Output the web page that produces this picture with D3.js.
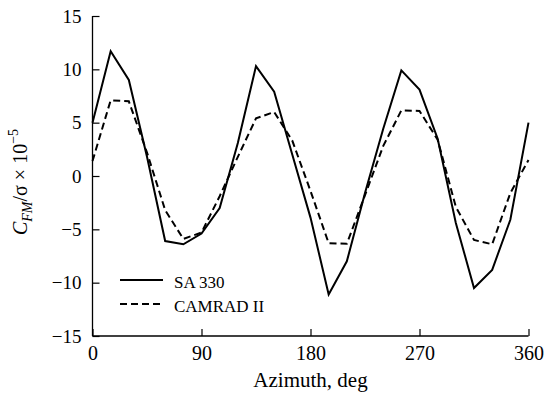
<!DOCTYPE html>
<html>
<head>
<meta charset="utf-8">
<script src="https://cdn.jsdelivr.net/npm/d3@7"></script>
<style>
  body { margin: 0; background: #fff; }
  svg text { font-family: "Liberation Serif", "Times New Roman", serif !important; fill: #000; }
</style>
</head>
<body>
<div class="chart"></div>
<script>
let azimuth = [0, 15, 30, 45, 60, 75, 90, 105, 120, 135, 150, 165, 180,
  195, 210, 225, 240, 255, 270, 285, 300, 315, 330, 345, 360];
let sa330 = [5.0, 11.7, 9.0, 1.8, -6.1, -6.4, -5.4, -3.0, 3.1, 10.3, 7.9, 2.0, -3.9,
  -11.1, -8.0, -1.6, 4.4, 9.9, 8.1, 3.5, -4.4, -10.5, -8.8, -4.1, 5.0];
let camrad = [1.4, 7.1, 7.0, 2.2, -3.2, -5.9, -5.3, -1.9, 1.8, 5.4, 6.0, 3.3, -1.4,
  -6.3, -6.35, -1.8, 2.8, 6.15, 6.1, 3.4, -2.9, -6.0, -6.4, -1.6, 1.5];
let xTicks = [0, 90, 180, 270, 360];
let yTicks = [-15, -10, -5, 0, 5, 10, 15];
let seriesNames = ["SA 330", "CAMRAD II"];

let svgWidth = 546;
let svgHeight = 395;

let svg = d3.select(".chart")
  .append("svg")
  .attr("width", svgWidth)
  .attr("height", svgHeight);

let x = d3.scaleLinear().domain([0, 360]).range([92.5, 528.5]);
let y = d3.scaleLinear().domain([-15, 15]).range([336, 16]);

// axes, ticks point inward
let bottomAxis = d3.axisBottom(x).tickValues(xTicks).tickSize(-7).tickPadding(10);
let leftAxis = d3.axisLeft(y).tickValues(yTicks).tickSize(-7).tickPadding(11)
  .tickFormat(d => d < 0 ? "\u2212" + Math.abs(d) : d);

let gx = svg.append("g")
  .attr("transform", `translate(0, ${y(-15)})`)
  .call(bottomAxis);
let gy = svg.append("g")
  .attr("transform", `translate(${x(0)}, 0)`)
  .call(leftAxis);

[gx, gy].forEach(g => {
  g.attr("font-family", null);
  g.select(".domain").attr("stroke", "#000").attr("stroke-width", 1.3)
    .attr("d", g === gx ? `M${x(0)},0H${x(360)}` : `M0,${y(15)}V${y(-15)}`);
  g.selectAll(".tick line").attr("stroke", "#000").attr("stroke-width", 1.2);
  g.selectAll(".tick text").style("font-family", "'Liberation Serif', serif").attr("fill", "#000");
});
gx.selectAll(".tick text").attr("font-size", 20);
gy.selectAll(".tick text").attr("font-size", 19);

// lines
let line = d3.line()
  .x((d, i) => x(azimuth[i]))
  .y(d => y(d));

svg.append("path")
  .datum(sa330)
  .attr("d", line)
  .attr("fill", "none")
  .attr("stroke", "#000")
  .attr("stroke-width", 2)
  .attr("stroke-linejoin", "miter");

svg.append("path")
  .datum(camrad)
  .attr("d", line)
  .attr("fill", "none")
  .attr("stroke", "#000")
  .attr("stroke-width", 2)
  .attr("stroke-dasharray", "7,4");

// legend
let legend = svg.append("g");
seriesNames.forEach((name, i) => {
  let ly = 280 + i * 24;
  legend.append("line")
    .attr("x1", 120).attr("x2", 163)
    .attr("y1", ly).attr("y2", ly)
    .attr("stroke", "#000")
    .attr("stroke-width", 2)
    .attr("stroke-dasharray", i === 1 ? "7,4" : null);
  legend.append("text")
    .attr("x", 174)
    .attr("y", ly + 8)
    .attr("font-size", 17)
    .text(name);
});

// axis titles
svg.append("text")
  .attr("x", (x(0) + x(360)) / 2)
  .attr("y", 387)
  .attr("text-anchor", "middle")
  .attr("font-size", 21)
  .text("Azimuth, deg");

let yTitle = svg.append("text")
  .attr("transform", "translate(27, 182) rotate(-90)")
  .attr("text-anchor", "middle")
  .attr("font-size", 20);
yTitle.append("tspan").attr("font-style", "italic").text("C");
yTitle.append("tspan").attr("font-style", "italic").attr("font-size", 14).attr("dy", 5).text("FM");
yTitle.append("tspan").attr("dy", -5).text("/\u03c3 \u00d7 10");
yTitle.append("tspan").attr("font-size", 14).attr("dy", -9).text("\u22125");
</script>
</body>
</html>
